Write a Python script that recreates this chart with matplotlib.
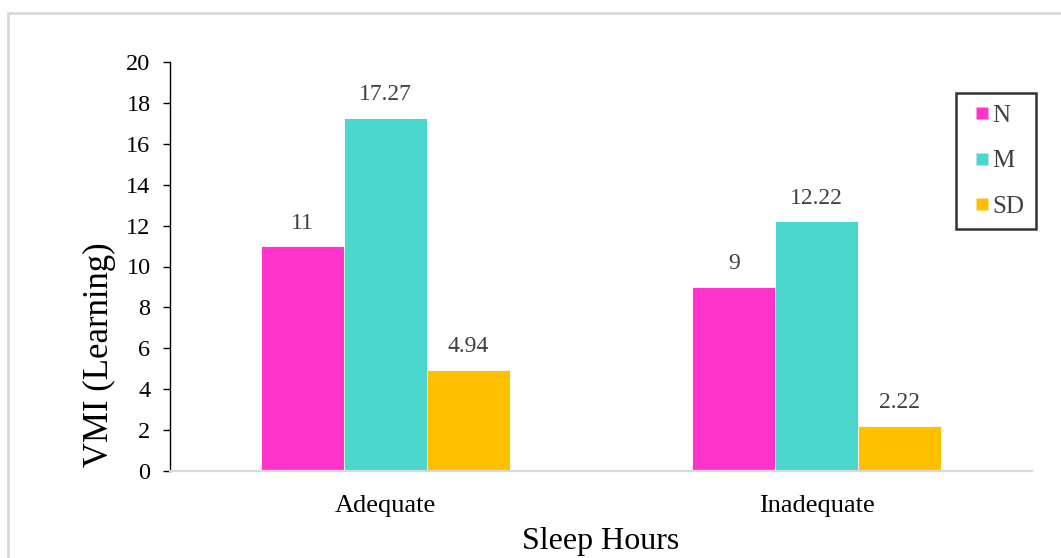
import matplotlib
matplotlib.use("Agg")
import matplotlib.pyplot as plt
import numpy as np
from matplotlib.patches import Rectangle
from matplotlib.lines import Line2D

# Data
categories = ["Adequate", "Inadequate"]
series_names = ["N", "M", "SD"]
n_values = [11, 9]
m_values = [17.27, 12.22]
sd_values = [4.94, 2.22]
value_labels = [["11", "9"], ["17.27", "12.22"], ["4.94", "2.22"]]
y_ticks = [0, 2, 4, 6, 8, 10, 12, 14, 16, 18, 20]

colors = ["#FF33CC", "#4BD6CE", "#FFC000"]

plt.rcParams["font.family"] = ["Liberation Serif", "DejaVu Serif"]

W, H = 1061, 558
fig = plt.figure(figsize=(W / 100, H / 100), dpi=100)
fig.patch.set_facecolor("white")

# outer chart frame
fig.patches.append(Rectangle((8 / W, -0.05), 1.1, (H - 13.5) / H + 0.05,
                             transform=fig.transFigure, fill=False,
                             edgecolor="#d9d9d9", linewidth=2.0, zorder=0))

ax = fig.add_axes([170 / W, 87 / H, (1032 - 170) / W, (471 - 62) / H])

x = np.arange(len(categories))
width = 0.192
all_values = [n_values, m_values, sd_values]
for i, (vals, name, col) in enumerate(zip(all_values, series_names, colors)):
    pos = x + (i - 1) * width
    bars = ax.bar(pos, vals, width, color=col, edgecolor="white",
                  linewidth=0.6, label=name, zorder=2)
    for b, v, lab in zip(bars, vals, value_labels[i]):
        ax.annotate(lab, (b.get_x() + b.get_width() / 2, v),
                    xytext=(0, 9), textcoords="offset points",
                    ha="center", va="bottom", fontsize=17, color="#404040")

ax.set_xlim(-0.5, 1.5)
ax.set_ylim(0, 20)
ax.set_yticks(y_ticks)
ax.set_xticks(x)
ax.set_xticklabels(categories)
ax.tick_params(axis="x", length=0, pad=17, labelsize=19)
ax.tick_params(axis="y", length=5, width=1.0, pad=9, labelsize=17.5,
               direction="out")

for s in ["top", "right"]:
    ax.spines[s].set_visible(False)
ax.spines["left"].set_color("black")
ax.spines["left"].set_linewidth(1.0)
ax.spines["bottom"].set_color("#d9d9d9")
ax.spines["bottom"].set_linewidth(1.6)

fig.text(99 / W, 1 - 355 / H, "VMI (Learning)", rotation=90,
         ha="center", va="center", fontsize=25)
fig.text(601 / W, 1 - 542 / H, "Sleep Hours", ha="center", va="center",
         fontsize=23)

handles = [Line2D([], [], marker="s", linestyle="none", markersize=8,
                  markerfacecolor=c, markeredgecolor="none") for c in colors]
leg = fig.legend(handles, series_names, loc="upper left",
                 bbox_to_anchor=(956 / W, 1 - 93 / H),
                 fontsize=18, frameon=True, fancybox=False,
                 handlelength=1.18, handletextpad=-0.17,
                 labelspacing=0.92, borderpad=0.45, borderaxespad=0)
leg.get_frame().set_edgecolor("black")
leg.get_frame().set_linewidth(1.8)
for t in leg.get_texts():
    t.set_color("#404040")

fig.savefig("out.png", dpi=100, facecolor="white")
